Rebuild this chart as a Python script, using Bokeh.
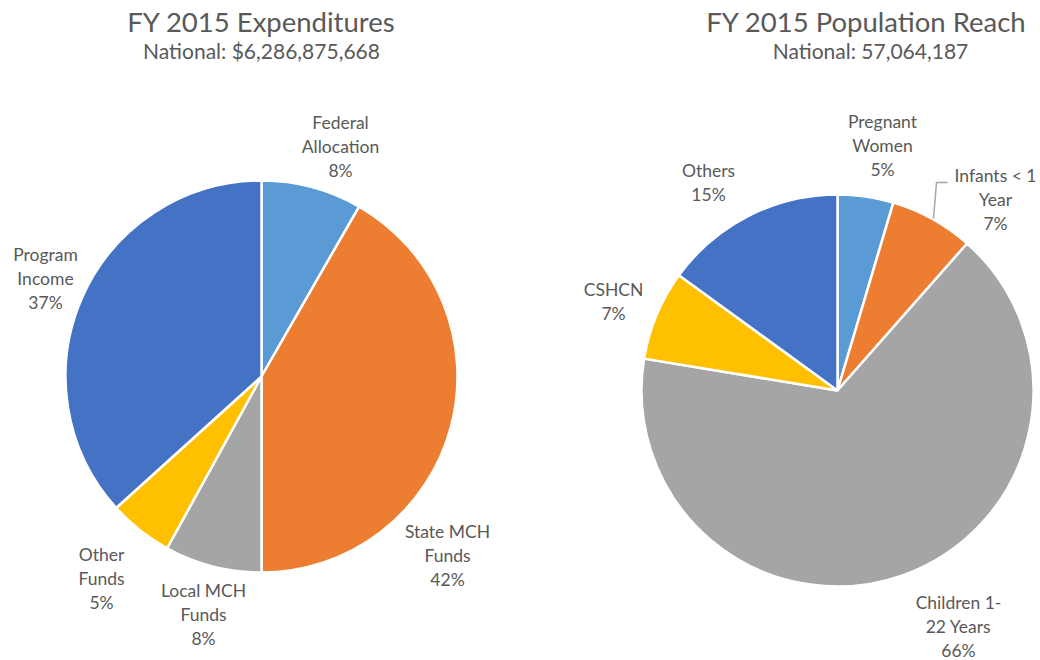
import math
from bokeh.plotting import figure
from bokeh.models import Range1d, ColumnDataSource
from bokeh.core.properties import value
from bokeh.embed import file_html
from bokeh.resources import INLINE

# ---- data ----
exp_title = "FY 2015 Expenditures"
exp_subtitle = "National: $6,286,875,668"
exp_categories = ["Federal Allocation", "State MCH Funds", "Local MCH Funds", "Other Funds", "Program Income"]
exp_label_lines = ["Federal\nAllocation", "State MCH\nFunds", "Local MCH\nFunds", "Other\nFunds", "Program\nIncome"]
exp_values = [8.3, 41.7, 8.0, 5.3, 36.7]

pop_title = "FY 2015 Population Reach"
pop_subtitle = "National: 57,064,187"
pop_categories = ["Pregnant Women", "Infants < 1 Year", "Children 1-22 Years", "CSHCN", "Others"]
pop_label_lines = ["Pregnant\nWomen", "Infants < 1\nYear", "Children 1-\n22 Years", "CSHCN", "Others"]
pop_values = [4.6, 6.9, 66.1, 7.4, 15.0]

colors = ["#5B9BD5", "#ED7D31", "#A5A5A5", "#FFC000", "#4472C4"]

# ---- layout (screen pixel coords; y down) ----
FONT = "Lato"
TXT = "#595959"
W, H = 1040, 660

exp_center = (261, 376)
pop_center = (837, 390)
R = 196

exp_label_pos = [(340, 146), (447, 555), (203, 614), (101, 578), (45, 278)]
pop_label_pos = [(882, 145), (995, 199), (958, 626), (613, 301), (708, 182)]

p = figure(width=W, height=H, output_backend="svg", toolbar_location=None,
           x_range=Range1d(0, W), y_range=Range1d(-H, 0),
           x_axis_location=None, y_axis_location=None, min_border=0,
           background_fill_color="white", border_fill_color="white")
p.grid.visible = False
p.outline_line_color = None


def wedges(vals, center):
    total = sum(vals)
    starts, ends = [], []
    c = 0.0
    for v in vals:
        s = math.pi / 2 - 2 * math.pi * c / total
        c += v
        e = math.pi / 2 - 2 * math.pi * c / total
        starts.append(s)
        ends.append(e)
    src = ColumnDataSource(dict(x=[center[0]] * len(vals), y=[-center[1]] * len(vals),
                                start=starts, end=ends, color=colors))
    p.wedge(x="x", y="y", radius=R, start_angle="start", end_angle="end",
            direction="clock", fill_color="color", line_color="white",
            line_width=2.5, source=src)


wedges(exp_values, exp_center)
wedges(pop_values, pop_center)


def labels(lines, vals, pos):
    texts = [f"{l}\n{round(v)}%" for l, v in zip(lines, vals)]
    src = ColumnDataSource(dict(x=[q[0] for q in pos], y=[-q[1] for q in pos], t=texts))
    p.text(x="x", y="y", text="t", source=src, text_align="center",
           text_baseline="middle", text_font=value(FONT), text_font_size="17.5px",
           text_color=TXT, text_line_height=1.15)


labels(exp_label_lines, exp_values, exp_label_pos)
labels(pop_label_lines, pop_values, pop_label_pos)

# leader line for Infants label
p.line(x=[947, 936, 933], y=[-182, -182, -218], line_color="#A5A5A5", line_width=1.5)

# titles
p.text(x=[261, 866], y=[-21, -21], text=[exp_title, pop_title], text_align="center",
       text_baseline="middle", text_font=value(FONT), text_font_size="27.5px", text_color=TXT)
p.text(x=[261, 870], y=[-50, -50], text=[exp_subtitle, pop_subtitle], text_align="center",
       text_baseline="middle", text_font=value(FONT), text_font_size="21px", text_color=TXT)

open("out.html", "w").write(file_html(p, INLINE))
